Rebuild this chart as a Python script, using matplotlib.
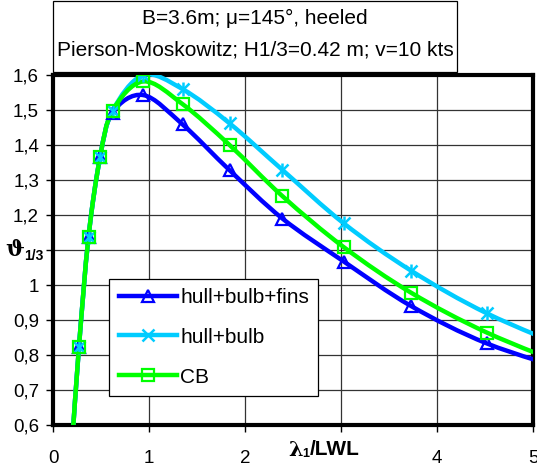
"""Significant roll amplitude vs wave length ratio, three hull variants."""

import matplotlib
matplotlib.use("Agg")
import matplotlib.pyplot as plt
from matplotlib.lines import Line2D
from matplotlib.patches import PathPatch, Rectangle
from matplotlib.path import Path

plt.rcParams["font.family"] = ["Liberation Sans", "DejaVu Sans"]

# ── data ──────────────────────────────────────────────────────────────
lam = [0.20, 0.27, 0.37, 0.49, 0.62, 0.94, 1.35, 1.84, 2.39, 3.03, 3.73, 4.52, 5.45]
fins = [0.55, 0.822, 1.138, 1.365, 1.493, 1.543, 1.459, 1.328, 1.19, 1.067, 0.94, 0.833, 0.75]
bulb = [0.55, 0.822, 1.138, 1.365, 1.498, 1.600, 1.560, 1.462, 1.329, 1.176, 1.041, 0.919, 0.81]
cb = [0.55, 0.822, 1.138, 1.365, 1.498, 1.582, 1.517, 1.400, 1.254, 1.108, 0.978, 0.864, 0.76]

labels = ["hull+bulb+fins", "hull+bulb", "CB"]
colors = ["#0000FF", "#00CCFF", "#00FF00"]
markers = ["^", "x", "s"]

yticks = [0.6, 0.7, 0.8, 0.9, 1.0, 1.1, 1.2, 1.3, 1.4, 1.5, 1.6]
ytick_labels = ["0,6", "0,7", "0,8", "0,9", "1", "", "1,2", "1,3", "1,4", "1,5", "1,6"]
xticks = [0, 1, 2, 3, 4, 5]
xtick_labels = ["0", "1", "2", "", "4", "5"]


def smooth_path(xs, ys):
    """Excel-style smoothed line: cubic Bezier through the points."""
    verts = [(xs[0], ys[0])]
    codes = [Path.MOVETO]
    n = len(xs)
    for i in range(n - 1):
        p0 = (xs[max(i - 1, 0)], ys[max(i - 1, 0)])
        p1 = (xs[i], ys[i])
        p2 = (xs[i + 1], ys[i + 1])
        p3 = (xs[min(i + 2, n - 1)], ys[min(i + 2, n - 1)])
        c1 = (p1[0] + (p2[0] - p0[0]) / 6, p1[1] + (p2[1] - p0[1]) / 6)
        c2 = (p2[0] - (p3[0] - p1[0]) / 6, p2[1] - (p3[1] - p1[1]) / 6)
        verts += [c1, c2, p2]
        codes += [Path.CURVE4] * 3
    return Path(verts, codes)


fig = plt.figure(figsize=(5.37, 4.69), dpi=100)
ax = fig.add_axes([0.0987, 0.0938, 0.894, 0.746])

handles = []
for ys, lab, col, mk in zip((fins, bulb, cb), labels, colors, markers):
    ax.add_patch(PathPatch(smooth_path(lam, ys), fill=False, edgecolor=col,
                           lw=3.2, capstyle="round", zorder=3))
    mew = 1.6 if mk != "x" else 1.8
    ax.plot(lam, ys, ls="none", marker=mk, ms=9, mfc="none", mec=col,
            mew=mew, zorder=4)
    if mk == "x":
        ax.plot(lam, ys, ls="none", marker="|", ms=10, mec=col, mew=1.8, zorder=4)
    handles.append(Line2D([], [], color=col, lw=3.2, marker=mk, ms=9,
                          mfc="none", mec=col, mew=mew))

ax.set_xlim(0, 5)
ax.set_ylim(0.6, 1.6)
ax.set_xticks(xticks)
ax.set_xticklabels(xtick_labels)
ax.set_yticks(yticks)
ax.set_yticklabels(ytick_labels)
ax.tick_params(direction="out", length=5, width=1, labelsize=13.5, color="black")
ax.tick_params(axis="x", pad=13)
ax.tick_params(axis="y", pad=5)
ax.grid(True, color="0.2", lw=0.9)
ax.set_axisbelow(True)
for sp in ax.spines.values():
    sp.set_linewidth(3)

# axis titles sit where Excel put them, over the 1,1 / 3 tick spots
fig.text(0.010, 0.467, "ϑ", fontsize=16, fontweight="bold", ha="left", va="center",
         family="DejaVu Serif")
fig.text(0.044, 0.455, "1/3", fontsize=10, fontweight="bold", ha="left", va="center")
fig.text(0.536, 0.041, "λ", fontsize=15, fontweight="bold", ha="left", va="center",
         family="DejaVu Serif")
fig.text(0.563, 0.033, "1", fontsize=9, fontweight="bold", ha="left", va="center")
fig.text(0.577, 0.041, "/LWL", fontsize=15, fontweight="bold", ha="left", va="center")

leg = ax.legend(handles, labels, loc="lower left", bbox_to_anchor=(0.117, 0.083),
                borderaxespad=0, fancybox=False, edgecolor="black", framealpha=1,
                fontsize=15, handlelength=2.8, labelspacing=1.0,
                borderpad=0.45, handletextpad=0.15)
leg.get_frame().set_linewidth(0.9)

# title box
fig.patches.append(Rectangle((0.0987, 0.846), 0.752, 0.152, transform=fig.transFigure,
                             fill=False, edgecolor="black", lw=0.9))
fig.text(0.475, 0.961, "B=3.6m; μ=145°, heeled", ha="center", va="center", fontsize=15)
fig.text(0.475, 0.893, "Pierson-Moskowitz; H1/3=0.42 m; v=10 kts",
         ha="center", va="center", fontsize=15)

fig.savefig("out.png", dpi=100)
